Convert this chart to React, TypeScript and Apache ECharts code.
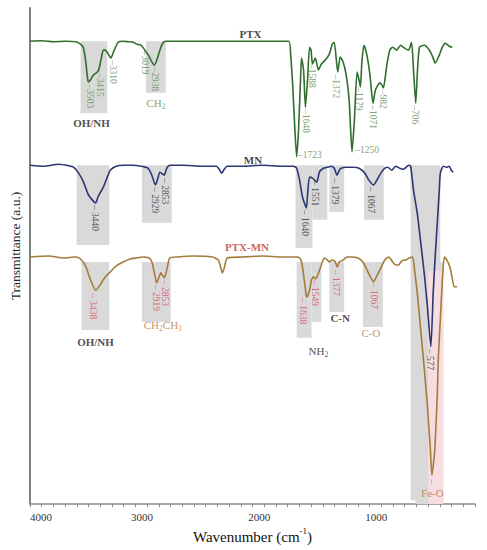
import React, { useEffect, useRef } from "react";
import * as echarts from "echarts";

const FONT = '"Liberation Serif", "DejaVu Serif", serif';

// x axis: wavenumber (cm-1), labelled every 1000
const xMin = 200;
const xMax = 4000;
const xLabelStep = 1000;

// Spectra: [wavenumber, transmittance (a.u.)]
const ptxSpectrum: [number, number][] = [
  [4000, 93.3], [3900, 93.4], [3800, 93.2], [3700, 93.3], [3611, 93.2], [3568, 92.7], [3543, 91.9],
  [3526, 89.5], [3512, 86.6], [3503, 85.1], [3484, 85.5], [3458, 86.5], [3425, 87.1], [3412, 87.6],
  [3391, 89.9], [3374, 91.5], [3357, 91.5], [3331, 90.7], [3310, 89.9], [3281, 91.5], [3247, 93.1],
  [3204, 93.3], [3162, 93.2], [3120, 93.1], [3086, 92.7], [3052, 92.5], [3019, 91.5], [2984, 90.3],
  [2959, 89.1], [2938, 88.5], [2917, 89.5], [2891, 91.5], [2866, 92.9], [2841, 93.3], [2500, 93.3],
  [2200, 93.3], [2000, 93.3], [1791, 93.3], [1774, 90.5], [1757, 84.5], [1740, 76.4], [1723, 70.0],
  [1707, 75.4], [1690, 85.5], [1681, 89.9], [1664, 87.5], [1648, 80.0], [1630, 85.5], [1613, 92.1],
  [1600, 91.5], [1588, 88.7], [1563, 89.9], [1537, 87.5], [1512, 88.7], [1478, 89.5], [1444, 90.7],
  [1419, 92.7], [1402, 93.1], [1372, 87.1], [1351, 90.1], [1326, 89.1], [1300, 86.5], [1275, 81.5],
  [1262, 75.4], [1250, 71.0], [1230, 77.4], [1207, 87.1], [1190, 85.5], [1179, 84.1], [1165, 89.5],
  [1148, 92.5], [1123, 90.5], [1097, 86.5], [1085, 83.5], [1071, 80.8], [1050, 83.5], [1013, 84.9],
  [996, 84.5], [982, 83.9], [953, 88.5], [928, 91.5], [903, 92.1], [869, 91.5], [835, 92.5],
  [801, 91.9], [767, 91.5], [742, 93.1], [725, 87.5], [706, 80.8], [691, 87.5], [674, 92.1],
  [632, 92.5], [589, 91.5], [564, 90.3], [539, 88.9], [505, 90.5], [479, 92.1], [454, 92.9],
  [420, 92.3], [395, 92.1],
];

const mnSpectrum: [number, number][] = [
  [4000, 68.3], [3882, 68.1], [3755, 68.5], [3670, 68.2], [3628, 67.9], [3585, 66.7], [3543, 64.9],
  [3500, 62.3], [3440, 60.7], [3416, 62.1], [3374, 63.9], [3340, 65.9], [3315, 67.3], [3264, 68.1],
  [3204, 68.3], [3120, 68.3], [3052, 68.1], [2993, 67.7], [2960, 66.3], [2929, 64.3], [2908, 65.7],
  [2891, 66.9], [2866, 66.5], [2853, 66.3], [2832, 67.7], [2807, 68.3], [2697, 68.3], [2527, 68.1],
  [2409, 68.1], [2384, 67.5], [2364, 66.7], [2341, 67.5], [2316, 68.1], [2189, 68.1], [2019, 68.3],
  [1850, 68.1], [1749, 68.1], [1723, 67.7], [1698, 65.3], [1673, 61.9], [1640, 59.7], [1630, 62.3],
  [1613, 65.9], [1588, 65.7], [1551, 64.9], [1529, 66.9], [1495, 67.7], [1461, 67.9], [1427, 68.1],
  [1402, 67.7], [1379, 66.3], [1359, 67.3], [1343, 67.7], [1300, 67.9], [1241, 67.9], [1190, 67.7],
  [1140, 66.7], [1106, 65.3], [1067, 64.3], [1038, 65.3], [1004, 66.7], [970, 67.7], [945, 67.9],
  [911, 67.3], [877, 68.1], [843, 67.7], [809, 67.5], [767, 68.3], [750, 68.1], [725, 63.3],
  [691, 58.3], [666, 53.2], [632, 46.2], [606, 39.7], [577, 31.7], [556, 43.1], [539, 50.2],
  [522, 56.7], [505, 63.3], [496, 66.7], [471, 68.1], [445, 67.9], [420, 68.1], [403, 67.3],
  [386, 66.9],
];

const ptxMnSpectrum: [number, number][] = [
  [4000, 49.8], [3839, 50.0], [3712, 49.6], [3611, 49.8], [3568, 49.4], [3526, 48.0], [3484, 45.2],
  [3458, 43.8], [3438, 43.1], [3400, 44.2], [3374, 45.2], [3340, 46.2], [3315, 46.8], [3264, 48.0],
  [3204, 48.8], [3145, 49.4], [3094, 49.6], [3035, 49.8], [2984, 49.6], [2959, 48.8], [2934, 46.2],
  [2919, 44.6], [2900, 45.6], [2883, 46.6], [2866, 46.0], [2853, 45.6], [2832, 47.2], [2807, 49.6],
  [2739, 49.8], [2612, 50.0], [2443, 49.8], [2392, 49.2], [2375, 48.0], [2358, 46.6], [2341, 47.6],
  [2316, 49.6], [2189, 49.8], [2019, 50.0], [1850, 49.8], [1723, 49.8], [1698, 49.6], [1681, 48.8],
  [1664, 46.2], [1647, 43.1], [1638, 41.7], [1613, 43.1], [1596, 45.2], [1580, 45.8], [1563, 45.4],
  [1549, 45.8], [1512, 48.2], [1487, 49.6], [1461, 49.2], [1444, 48.8], [1419, 49.2], [1393, 48.8],
  [1377, 47.8], [1359, 48.8], [1326, 49.2], [1292, 49.8], [1258, 49.8], [1199, 49.6], [1157, 48.8],
  [1123, 47.2], [1089, 45.6], [1067, 44.8], [1038, 46.0], [1004, 47.6], [970, 49.2], [936, 49.8],
  [903, 48.8], [877, 48.2], [852, 48.2], [826, 49.0], [792, 49.2], [759, 49.6], [733, 49.8],
  [716, 47.2], [691, 42.1], [666, 35.7], [632, 27.0], [606, 19.6], [581, 10.9], [568, 5.8],
  [547, 9.9], [539, 12.9], [522, 22.0], [513, 29.6], [496, 37.3], [479, 45.0], [462, 49.8],
  [445, 49.4], [428, 48.6], [412, 47.6], [395, 45.6], [378, 43.8], [352, 43.8],
];

// Peak labels: [wavenumber, transmittance, text]
const ptxPeaks: [number, number, string][] = [
  [3487, 84.6, "–3503"], [3405, 86.9, "–3415"], [3292, 89.5, "–3310"], [3014, 91.4, "–3019"],
  [2932, 88.0, "–2938"], [1596, 88.7, "–1588"], [1647, 79.6, "–1648"], [1385, 86.6, "–1372"],
  [1190, 84.0, "–1179"], [1072, 80.4, "–1071"], [987, 83.5, "–982"], [716, 80.4, "–706"],
];
const ptxPeaksFlat: [number, number, string][] = [
  [1712, 70.4, "–1723"], [1222, 71.4, "–1250"],
];
const mnPeaks: [number, number, string][] = [
  [3441, 60.3, "– 3440"], [2934, 63.9, "– 2929"], [2849, 65.7, "– 2853"], [1655, 59.3, "– 1640"],
  [1563, 65.3, "– 1551"], [1393, 65.7, "– 1379"], [1089, 63.9, "– 1067"], [581, 31.3, "– 577"],
];
const ptxMnPeaks: [number, number, string][] = [
  [3458, 42.5, "– 3438"], [2925, 44.2, "– 2919"], [2849, 45.2, "– 2853"], [1673, 41.5, "– 1638"],
  [1563, 45.2, "– 1549"], [1385, 47.2, "– 1377"], [1063, 44.6, "– 1067"], [568, 5.0, "–"],
];

// Band / sample names: [wavenumber, transmittance, text, kind]
const bandNames: [number, number, string, string][] = [
  [2117, 94.8, "PTX", "title"],
  [2096, 69.4, "MN", "title"],
  [2147, 51.8, "PTX-MN", "mixTitle"],
  [3475, 76.8, "OH/NH", "bold"],
  [2925, 80.6, "{t|CH}{s|2}", "ptx"],
  [3441, 32.7, "OH/NH", "bold"],
  [2866, 35.9, "{t|CH}{s|2}{t|CH}{s|3}", "mix"],
  [1537, 30.6, "{t|NH}{s|2}", "plain"],
  [1351, 37.5, "C-N", "bold"],
  [1089, 34.5, "C-O", "mix"],
  [564, 2.2, "Fe-O", "mix"],
];

// Shaded bands: [wavenumber from, wavenumber to, top, bottom]
const ptxBands: [number, number, number, number][] = [
  [3568, 3340, 93.3, 78.8], [3010, 2841, 93.3, 82.9],
];
const mnBands: [number, number, number, number][] = [
  [3602, 3323, 68.3, 52.2], [3044, 2790, 68.3, 56.7], [1732, 1588, 68.3, 51.6], [1588, 1461, 68.3, 57.3],
  [1444, 1317, 68.3, 58.9], [1148, 979, 68.3, 57.3], [750, 496, 68.3, 0.8],
];
const ptxMnBands: [number, number, number, number][] = [
  [3560, 3323, 48.8, 35.1], [3044, 2798, 48.8, 36.7], [1723, 1596, 48.8, 33.5], [1596, 1512, 48.8, 36.7],
  [1444, 1317, 48.8, 38.7], [1157, 987, 48.8, 35.7], [708, 471, 48.8, 0],
];
const pinkBands: [number, number, number, number][] = [[600, 471, 47, 0]];

const PTX_LINE = "#2f6e2b";
const MN_LINE = "#2b3673";
const MIX_LINE = "#a47b3b";
const PTX_NUM = "#5f8a52";
const MN_NUM = "#333333";
const MIX_NUM = "#d64f63";
const MIX_TEXT = "#b8773f";
const BOX = "#d9d9d9";
const PINK = "#f6dde2";

const kindStyle: Record<string, any> = {
  title: { color: "#111", fontWeight: "bold", fontSize: 11 },
  mixTitle: { color: "#c0392b", fontWeight: "bold", fontSize: 11 },
  bold: { color: "#222", fontWeight: "bold", fontSize: 11 },
  ptx: { color: PTX_NUM, fontWeight: "normal", fontSize: 11 },
  mix: { color: MIX_TEXT, fontWeight: "normal", fontSize: 11 },
  plain: { color: "#222", fontWeight: "normal", fontSize: 11 },
};

function rotatedLabels(points: [number, number, string][], color: string) {
  return {
    type: "scatter",
    symbolSize: 0,
    silent: true,
    z: 6,
    data: points.map(([wn, v, t]) => ({ value: [wn, v], name: t })),
    label: {
      show: true,
      formatter: "{b}",
      position: "inside",
      align: "left",
      verticalAlign: "middle",
      rotate: -90,
      color,
      fontSize: 9.5,
      fontFamily: FONT,
    },
  };
}

function bandAreas(bands: [number, number, number, number][], color: string) {
  return bands.map(([a, b, top, bottom]) => [
    { xAxis: a, yAxis: top, itemStyle: { color } },
    { xAxis: b, yAxis: bottom },
  ]);
}

export default function App() {
  const ref = useRef<HTMLDivElement>(null);

  useEffect(() => {
    if (!ref.current) return;
    const chart = echarts.init(ref.current, undefined, { renderer: "svg" });

    const lineSeries = (data: [number, number][], color: string) => ({
      type: "line",
      data,
      showSymbol: false,
      symbol: "none",
      smooth: 0.2,
      silent: true,
      z: 4,
      lineStyle: { color, width: 1.6 },
    });

    chart.setOption({
      animation: false,
      backgroundColor: "#ffffff",
      grid: { left: 26, right: 12, top: 8, bottom: 46, containLabel: false },
      xAxis: {
        type: "value",
        inverse: true,
        min: xMin,
        max: xMax,
        interval: 100,
        name: "{n|Wavenumber (cm}{sup|-1}{n|)}",
        nameLocation: "middle",
        nameGap: 21,
        nameTextStyle: {
          rich: {
            n: { fontFamily: FONT, fontSize: 15, color: "#111", verticalAlign: "bottom", lineHeight: 18 },
            sup: { fontFamily: FONT, fontSize: 9, color: "#111", verticalAlign: "top", lineHeight: 18, padding: [0, 0, 6, 0] },
          },
        },
        axisLine: { lineStyle: { color: "#8a8a8a", width: 1.5 } },
        axisTick: { show: true, length: 3, lineStyle: { color: "#8a8a8a" } },
        axisLabel: {
          fontFamily: FONT,
          fontSize: 11,
          color: "#333",
          margin: 7,
          padding: [0, 10, 0, 0],
          formatter: (v: number) => (v % xLabelStep === 0 ? String(v) : ""),
          alignMaxLabel: "left",
        },
        splitLine: { show: false },
      },
      yAxis: {
        type: "value",
        min: 0,
        max: 100,
        name: "Transmittance (a.u.)",
        nameLocation: "middle",
        nameGap: 8,
        nameTextStyle: { fontFamily: FONT, fontSize: 13.5, color: "#222", padding: [0, 0, 0, 20] },
        axisLine: { show: true, lineStyle: { color: "#808080", width: 2 } },
        axisTick: { show: false },
        axisLabel: { show: false },
        splitLine: { show: false },
      },
      series: [
        {
          type: "scatter",
          data: [[xMax, 0]],
          symbolSize: 0,
          silent: true,
          z: 1,
          markArea: {
            silent: true,
            data: [
              ...bandAreas(ptxBands, BOX),
              ...bandAreas(mnBands, BOX),
              ...bandAreas(ptxMnBands, BOX),
              ...bandAreas(pinkBands, PINK),
            ],
          },
        },
        lineSeries(ptxSpectrum, PTX_LINE),
        lineSeries(mnSpectrum, MN_LINE),
        lineSeries(ptxMnSpectrum, MIX_LINE),
        rotatedLabels(ptxPeaks, PTX_NUM),
        rotatedLabels(mnPeaks, MN_NUM),
        rotatedLabels(ptxMnPeaks, MIX_NUM),
        {
          type: "scatter",
          symbolSize: 0,
          silent: true,
          z: 6,
          data: ptxPeaksFlat.map(([wn, v, t]) => ({ value: [wn, v], name: t })),
          label: {
            show: true,
            formatter: "{b}",
            position: "inside",
            align: "left",
            verticalAlign: "middle",
            color: PTX_NUM,
            fontSize: 9.5,
            fontFamily: FONT,
          },
        },
        {
          type: "scatter",
          symbolSize: 0,
          silent: true,
          z: 6,
          data: bandNames.map(([wn, v, t, kind]) => ({
            value: [wn, v],
            name: t,
            label: { ...kindStyle[kind] },
          })),
          label: {
            show: true,
            formatter: "{b}",
            position: "inside",
            align: "center",
            verticalAlign: "middle",
            fontFamily: FONT,
            rich: {
              t: { fontFamily: FONT, fontSize: 11, lineHeight: 12, verticalAlign: "top" },
              s: { fontFamily: FONT, fontSize: 7.5, verticalAlign: "top", padding: [5, 0, 0, 0] },
            },
          },
        },
      ],
    });

    return () => chart.dispose();
  }, []);

  return (
    <div
      ref={ref}
      style={{ position: "absolute", left: 0, top: 0, width: 487, height: 550 }}
    />
  );
}
